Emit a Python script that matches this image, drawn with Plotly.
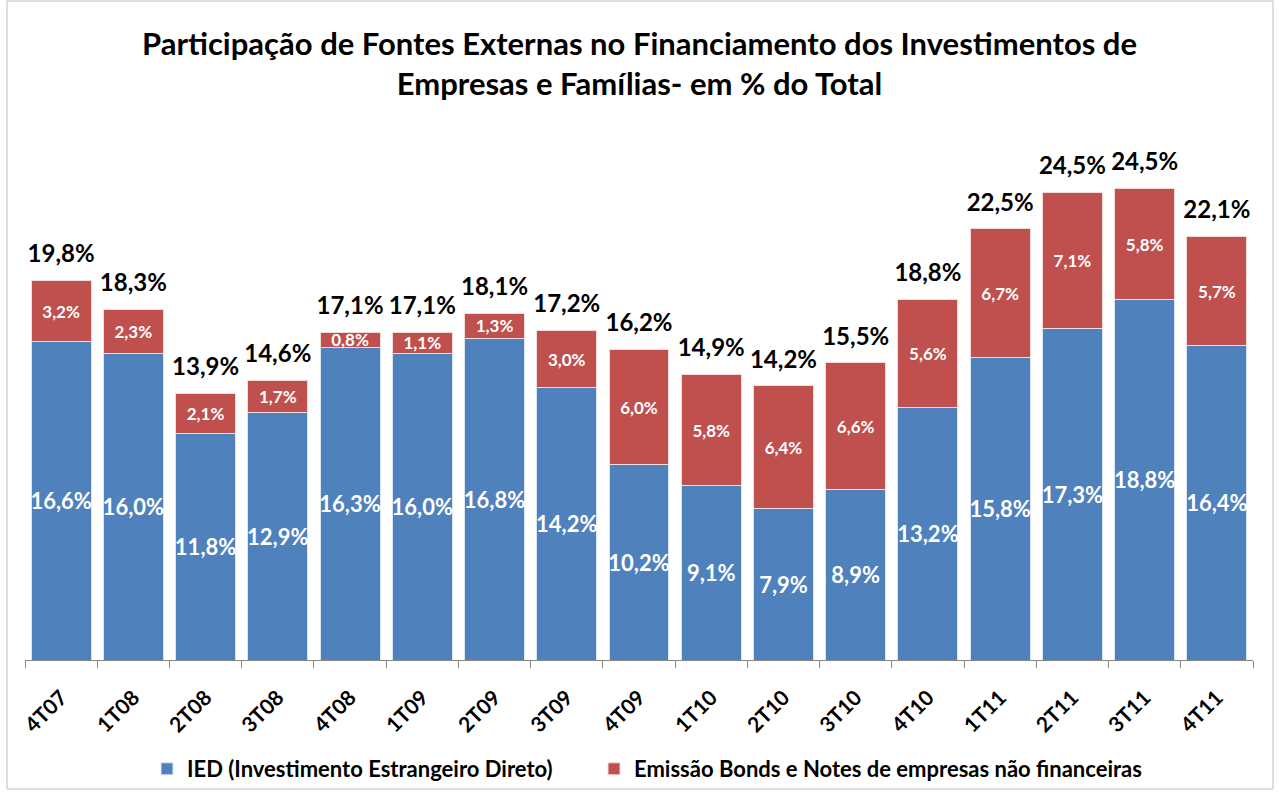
import plotly.graph_objects as go

categories = ["4T07", "1T08", "2T08", "3T08", "4T08", "1T09", "2T09", "3T09", "4T09",
              "1T10", "2T10", "3T10", "4T10", "1T11", "2T11", "3T11", "4T11"]
ied = [16.6, 16.0, 11.8, 12.9, 16.3, 16.0, 16.8, 14.2, 10.2, 9.1, 7.9, 8.9, 13.2, 15.8, 17.3, 18.8, 16.4]
bonds = [3.2, 2.3, 2.1, 1.7, 0.8, 1.1, 1.3, 3.0, 6.0, 5.8, 6.4, 6.6, 5.6, 6.7, 7.1, 5.8, 5.7]
totals = [19.8, 18.3, 13.9, 14.6, 17.1, 17.1, 18.1, 17.2, 16.2, 14.9, 14.2, 15.5, 18.8, 22.5, 24.5, 24.5, 22.1]

def fmt(v):
    return f"{v:.1f}".replace(".", ",") + "%"

FONT = "Lato"
fig = go.Figure()
fig.add_trace(go.Bar(
    x=categories, y=ied, name="IED (Investimento Estrangeiro Direto)", legend="legend",
    marker=dict(color="#4F81BD", line=dict(color="#DCE6F2", width=1)),
    text=[fmt(v) for v in ied], textposition="inside", insidetextanchor="middle",
    constraintext="none", textangle=0,
    textfont=dict(color="white", size=22, family=FONT, weight="bold"),
))
fig.add_trace(go.Bar(
    x=categories, y=bonds, name="Emissão Bonds e Notes de empresas não financeiras", legend="legend2",
    marker=dict(color="#C0504D", line=dict(color="#F2DCDB", width=1)),
    text=[fmt(v) for v in bonds], textposition="inside", insidetextanchor="middle",
    constraintext="none", textangle=0,
    textfont=dict(color="white", size=17, family=FONT, weight="bold"),
))
fig.add_trace(go.Scatter(
    x=categories, y=[a + b for a, b in zip(ied, bonds)], mode="markers+text",
    marker=dict(size=18, opacity=0),
    text=[fmt(v) for v in totals], textposition="top center",
    textfont=dict(color="black", size=24, family=FONT, weight="bold"),
    showlegend=False, hoverinfo="skip", cliponaxis=False,
))

L, R, T, B = 25, 26, 110, 132
W = 1279 - L - R
H = 792 - T - B
leg_y = -(762 - 660 - 14) / H
leg_common = dict(
    orientation="h", yanchor="top", y=leg_y, xanchor="left",
    font=dict(family=FONT, size=22, color="black", weight="bold"),
    itemwidth=30, bgcolor="rgba(0,0,0,0)",
)
fig.update_layout(
    width=1279, height=792,
    margin=dict(l=L, r=R, t=T, b=B, autoexpand=False),
    barmode="stack", bargap=0.17,
    plot_bgcolor="white", paper_bgcolor="white",
    title=dict(
        text="Participação de Fontes Externas no Financiamento dos Investimentos de<br>Empresas e Famílias- em % do Total",
        x=0.5, xanchor="center", y=1 - 55 / 792, yanchor="top",
        font=dict(family=FONT, size=31, color="black", weight="bold"),
    ),
    xaxis=dict(
        type="category", range=[-0.5, 16.5],
        tickangle=-45, showline=True, linecolor="#868686", linewidth=1,
        ticks="outside", tickson="boundaries", ticklen=7, tickcolor="#868686",
        tickfont=dict(family=FONT, size=21, color="black", weight="bold"),
        showgrid=False, automargin=False, ticklabelstandoff=16,
    ),
    yaxis=dict(range=[0, 28.7], visible=False),
    legend=dict(x=(147 - L) / W, **leg_common),
    legend2=dict(x=(594 - L) / W, **leg_common),
    showlegend=True,
)
fig.add_shape(type="rect", xref="paper", yref="paper",
              x0=(7 - L) / W, x1=(1273 - L) / W,
              y0=(792 - B - 789) / H, y1=(792 - B - 1) / H,
              line=dict(color="#BFBFBF", width=1), fillcolor="rgba(0,0,0,0)", layer="below")
fig.write_html("out.html", config={"displayModeBar": False},
               post_script="document.body.style.margin='0';")
